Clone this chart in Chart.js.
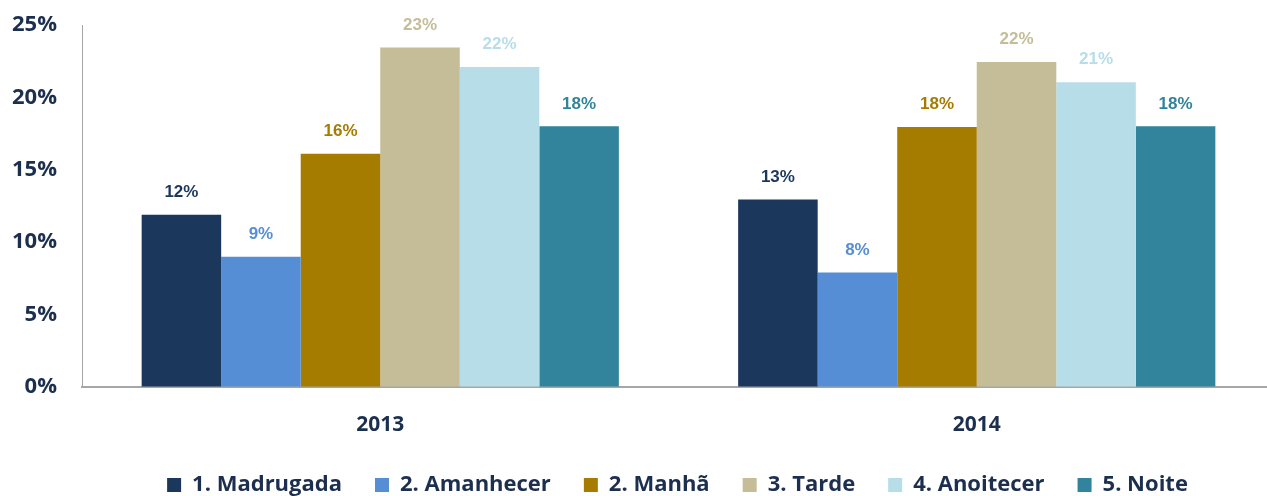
<!DOCTYPE html>
<html>
<head>
<meta charset="utf-8">
<script src="https://cdn.jsdelivr.net/npm/chart.js@4"></script>
<style>
  html, body { margin: 0; padding: 0; background: #fff; overflow: hidden; }
  #wrap { width: 1275px; height: 496px; }
</style>
</head>
<body>
<div id="wrap"><canvas id="grafico"></canvas></div>
<script>
// ====== DADOS ======
const anos = ["2013", "2014"];
const periodos = ["1. Madrugada", "2. Amanhecer", "2. Manhã", "3. Tarde", "4. Anoitecer", "5. Noite"];
const madrugada = [11.9, 12.95];
const amanhecer = [9.0, 7.9];
const manha = [16.1, 17.95];
const tarde = [23.45, 22.45];
const anoitecer = [22.1, 21.05];
const noite = [18.0, 18.0];
const ticksY = [0, 5, 10, 15, 20, 25];
const cores = ["#1b375c", "#558ed5", "#a67c00", "#c4bd97", "#b7dee8", "#31849b"];

const valores = [madrugada, amanhecer, manha, tarde, anoitecer, noite];
const corTexto = "#1c2f4f";

// ====== RÓTULOS SOBRE AS BARRAS ======
const rotulos = {
  id: "rotulos",
  afterDatasetsDraw(chart) {
    const ctx = chart.ctx;
    ctx.save();
    ctx.font = "bold 17px 'Liberation Sans', Arial, sans-serif";
    ctx.textAlign = "center";
    ctx.textBaseline = "bottom";
    chart.data.datasets.forEach((ds, i) => {
      chart.getDatasetMeta(i).data.forEach((bar, j) => {
        ctx.fillStyle = ds.backgroundColor;
        ctx.fillText(Math.round(ds.data[j]) + "%", bar.x, bar.y - 14);
      });
    });
    ctx.restore();
  }
};

// ====== LEGENDA: centraliza sob a área do gráfico ======
const ajusteLegenda = {
  id: "ajusteLegenda",
  afterLayout(chart) {
    const lg = chart.legend;
    lg.left = 80;
    lg.top += 4;
    lg.bottom += 4;
    if (lg.adjustHitBoxes) lg.adjustHitBoxes();
  }
};

new Chart(document.getElementById("grafico"), {
  type: "bar",
  data: {
    labels: anos,
    datasets: periodos.map((p, i) => ({
      label: p,
      data: valores[i],
      backgroundColor: cores[i],
      borderWidth: 0
    }))
  },
  options: {
    responsive: true,
    maintainAspectRatio: false,
    animation: false,
    layout: { padding: { top: 25, left: 0, right: 0, bottom: -6 } },
    datasets: { bar: { categoryPercentage: 0.8, barPercentage: 1 } },
    plugins: {
      legend: {
        position: "bottom",
        labels: {
          color: corTexto,
          font: { family: "'Open Sans', sans-serif", size: 22, weight: "bold" },
          boxWidth: 14,
          boxHeight: 14,
          padding: 33
        }
      },
      tooltip: { enabled: false }
    },
    scales: {
      x: {
        grid: { display: false, drawTicks: false },
        border: { color: "#a6a6a6", width: 2 },
        afterFit: axis => { axis.height = 50; },
        ticks: {
          color: corTexto,
          padding: 25,
          font: { family: "'Open Sans', sans-serif", size: 21, weight: "bold" }
        }
      },
      y: {
        min: 0,
        max: 25,
        afterBuildTicks: axis => { axis.ticks = ticksY.map(v => ({ value: v })); },
        // marcas invisíveis só para afastar os rótulos do eixo
        grid: { display: true, drawOnChartArea: false, drawTicks: true, tickLength: 25, color: "rgba(0,0,0,0)" },
        border: { color: "#a6a6a6", width: 1 },
        afterFit: axis => { axis.width = 82; },
        ticks: {
          color: corTexto,
          padding: 0,
          callback: v => v + "%",
          font: { family: "'Open Sans', sans-serif", size: 22, weight: "bold" }
        }
      }
    }
  },
  plugins: [rotulos, ajusteLegenda]
});
</script>
</body>
</html>
